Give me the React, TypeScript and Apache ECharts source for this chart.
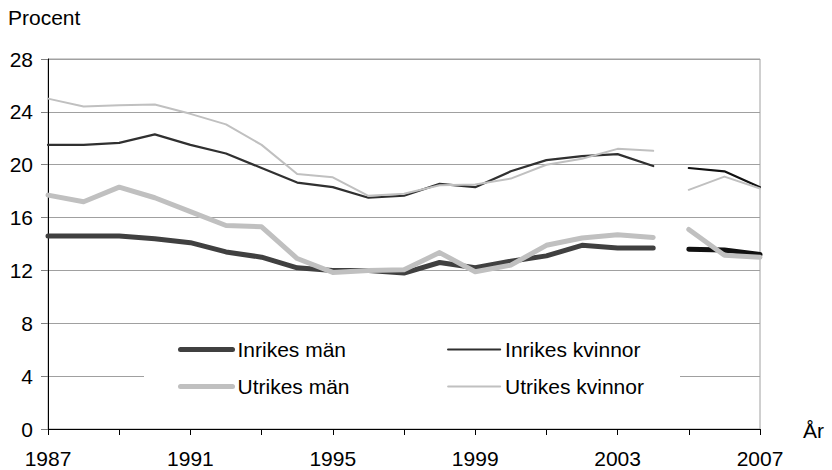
import React, { useEffect, useRef } from "react";
import * as echarts from "echarts";

const years = ["1987","1988","1989","1990","1991","1992","1993","1994","1995","1996","1997","1998","1999","2000","2001","2002","2003","2004","2005","2006","2007"];
const inrikesMan = [14.6, 14.6, 14.6, 14.4, 14.1, 13.4, 13.0, 12.2, 12.0, 12.0, 11.8, 12.6, 12.2, 12.7, 13.1, 13.9, 13.7, 13.7, 13.6, 13.55, 13.2];
const inrikesKvinnor = [21.5, 21.5, 21.65, 22.3, 21.5, 20.85, 19.75, 18.65, 18.3, 17.5, 17.65, 18.55, 18.3, 19.5, 20.35, 20.65, 20.8, 19.9, 19.75, 19.5, 18.3];
const utrikesMan = [17.7, 17.2, 18.3, 17.5, 16.45, 15.4, 15.3, 12.9, 11.85, 12.0, 12.05, 13.35, 11.9, 12.4, 13.9, 14.45, 14.7, 14.5, 15.1, 13.15, 13.0];
const utrikesKvinnor = [25.0, 24.4, 24.5, 24.55, 23.85, 23.05, 21.5, 19.3, 19.05, 17.65, 17.8, 18.45, 18.5, 18.95, 20.0, 20.45, 21.2, 21.05, 18.1, 19.1, 18.2];
const breakAfterIndex = 17; // series break between 2004 and 2005

const FONT = "Liberation Sans, Arial, sans-serif";

export default function App() {
  const ref = useRef<HTMLDivElement>(null);
  useEffect(() => {
    document.body.style.margin = "0";
    const chart = echarts.init(ref.current!, null, { renderer: "svg" });
    const defs = [
      { name: "Inrikes män", data: inrikesMan, color: "#404040", postColor: "#111111", width: 5 },
      { name: "Inrikes kvinnor", data: inrikesKvinnor, color: "#303030", postColor: "#111111", width: 2.2 },
      { name: "Utrikes män", data: utrikesMan, color: "#c0c0c0", postColor: "#c0c0c0", width: 5 },
      { name: "Utrikes kvinnor", data: utrikesKvinnor, color: "#c0c0c0", postColor: "#c0c0c0", width: 2 },
    ];
    const seg = (vals: number[], from: number, to: number) =>
      vals.map((v, i) => (i >= from && i <= to ? v : null));
    const mk = (d: any, pre: boolean) => ({
      type: "line",
      name: d.name,
      data: pre ? seg(d.data, 0, breakAfterIndex) : seg(d.data, breakAfterIndex + 1, years.length - 1),
      symbol: "none",
      showSymbol: false,
      connectNulls: false,
      color: pre ? d.color : d.postColor,
      lineStyle: { color: pre ? d.color : d.postColor, width: d.width, join: "round", cap: "round" },
      z: 2,
    });
    const series = [...defs.map((d) => mk(d, true)), ...defs.map((d) => mk(d, false))];
    const legendBase = {
      orient: "vertical",
      top: 334,
      itemWidth: 52,
      itemHeight: 14,
      itemGap: 16,
      lineStyle: { width: "inherit" },
      itemStyle: { opacity: 0, borderWidth: 0 },
      textStyle: { fontFamily: FONT, fontSize: 21, color: "#000" },
      selectedMode: false,
    };
    chart.setOption({
      animation: false,
      backgroundColor: "#ffffff",
      grid: { left: 48, right: 72, top: 59, bottom: 41, show: true, borderColor: "#a0a0a0", borderWidth: 1, backgroundColor: "transparent" },
      xAxis: {
        type: "category",
        data: years,
        boundaryGap: false,
        axisLine: { lineStyle: { color: "#000", width: 1 } },
        axisTick: { interval: 1, length: 6, lineStyle: { color: "#000" } },
        axisLabel: { interval: 3, margin: 19, fontFamily: FONT, fontSize: 21, color: "#000" },
        splitLine: { show: false },
      },
      yAxis: {
        type: "value",
        min: 0,
        max: 28,
        interval: 4,
        axisLine: { show: true, lineStyle: { color: "#000", width: 1 } },
        axisTick: { show: true, length: 7, lineStyle: { color: "#808080" } },
        axisLabel: { margin: 15, fontFamily: FONT, fontSize: 21, color: "#000" },
        splitLine: { lineStyle: { color: "#a0a0a0", width: 1 } },
      },
      legend: [
        { ...legendBase, left: 173, data: ["Inrikes män", "Utrikes män"] },
        { ...legendBase, left: 442, data: ["Inrikes kvinnor", "Utrikes kvinnor"] },
      ],
      graphic: [
        { type: "rect", z: 1, silent: true, shape: { x: 144, y: 330, width: 536, height: 70 }, style: { fill: "#ffffff" } },
        { type: "text", left: 8, top: 7, style: { text: "Procent", font: `21px ${FONT}`, fill: "#000" } },
        { type: "text", left: 803, top: 420, style: { text: "År", font: `21px ${FONT}`, fill: "#000" } },
      ],
      series,
    });
    return () => chart.dispose();
  }, []);
  return <div ref={ref} style={{ width: 832, height: 470 }} />;
}
